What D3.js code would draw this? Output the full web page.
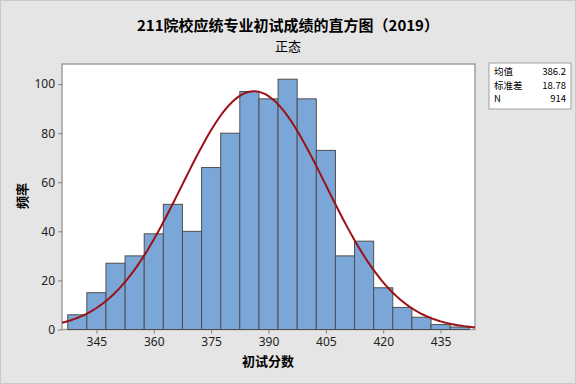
<!DOCTYPE html>
<html>
<head>
<meta charset="utf-8">
<script src="https://cdn.jsdelivr.net/npm/d3@7"></script>
<style>
body { margin: 0; background: #fff; }
text { font-family: "Noto Sans CJK SC", "DejaVu Sans", sans-serif; }
</style>
</head>
<body>
<div id="chart"></div>
<script>
// bin centres (score), counts per bin
var binCenters = [340, 345, 350, 355, 360, 365, 370, 375, 380, 385, 390, 395, 400, 405, 410, 415, 420, 425, 430, 435, 440];
var counts = [6, 15, 27, 30, 39, 51, 40, 66, 80, 97, 94, 102, 94, 73, 30, 36, 17, 9, 5, 2, 1];
var xTicks = [345, 360, 375, 390, 405, 420, 435];
var yTicks = [0, 20, 40, 60, 80, 100];
var statLabels = ["均值", "标准差", "N"];
var statValues = ["386.2", "18.78", "914"];
var mean = 386.2, sd = 18.78, n = 914, binWidth = 5;

var W = 576, H = 384;
var margin = {top: 64, right: 101, bottom: 54.5, left: 62};

var svg = d3.select("#chart").append("svg").attr("width", W).attr("height", H);

svg.append("rect").attr("x", 0.5).attr("y", 0.5).attr("width", W - 1).attr("height", H - 1)
    .attr("fill", "#e5e5e5").attr("stroke", "#c8c8c8");

var x = d3.scaleLinear().domain([336, 444]).range([margin.left, W - margin.right]);
var y = d3.scaleLinear().domain([0, 108.2]).range([H - margin.bottom, margin.top]);

// plot area
svg.append("rect").attr("x", margin.left).attr("y", margin.top)
    .attr("width", W - margin.right - margin.left).attr("height", H - margin.bottom - margin.top)
    .attr("fill", "#fff").attr("stroke", "#a0a0a0").attr("stroke-width", 1.5);

// bars
svg.selectAll(".bar").data(binCenters).enter().append("rect")
    .attr("class", "bar")
    .attr("x", d => x(d - binWidth / 2))
    .attr("width", d => x(d + binWidth / 2) - x(d - binWidth / 2))
    .attr("y", (d, i) => y(counts[i]))
    .attr("height", (d, i) => y(0) - y(counts[i]))
    .attr("fill", "#7ba7d8").attr("stroke", "#4f4f4f").attr("stroke-width", 1);

// fitted normal curve from the stats
var pts = d3.range(336, 444.01, 0.5).map(function(v) {
    var z = (v - mean) / sd;
    return [v, n * binWidth * Math.exp(-0.5 * z * z) / (sd * Math.sqrt(2 * Math.PI))];
});
svg.append("path").datum(pts)
    .attr("d", d3.line().x(d => x(d[0])).y(d => y(d[1])))
    .attr("fill", "none").attr("stroke", "#9b1116").attr("stroke-width", 2);

// axes
var xAxis = svg.append("g").attr("transform", `translate(0,${H - margin.bottom})`)
    .call(d3.axisBottom(x).tickValues(xTicks).tickSize(4).tickPadding(4));
var yAxis = svg.append("g").attr("transform", `translate(${margin.left},0)`)
    .call(d3.axisLeft(y).tickValues(yTicks).tickSize(4).tickPadding(3));
[xAxis, yAxis].forEach(function(a) {
    a.select(".domain").remove();
    a.selectAll("line").attr("stroke", "#808080");
    a.selectAll("text").attr("font-size", 12).attr("fill", "#222")
        .style("font-family", "'Noto Sans', 'DejaVu Sans', sans-serif");
});

// titles
svg.append("text").attr("x", 288).attr("y", 31).attr("text-anchor", "middle")
    .attr("font-size", 15).attr("font-weight", "bold").text("211院校应统专业初试成绩的直方图（2019）");
svg.append("text").attr("x", 288).attr("y", 51).attr("text-anchor", "middle")
    .attr("font-size", 13).text("正态");
svg.append("text").attr("x", 268).attr("y", 366).attr("text-anchor", "middle")
    .attr("font-size", 13).attr("font-weight", "bold").text("初试分数");
svg.append("text").attr("transform", "translate(27,196) rotate(-90)").attr("text-anchor", "middle")
    .attr("font-size", 13).attr("font-weight", "bold").text("频率");

// stats box
var box = svg.append("g").attr("transform", "translate(489,63)");
box.append("rect").attr("width", 82).attr("height", 46).attr("fill", "#fff").attr("stroke", "#a0a0a0");
statLabels.forEach(function(l, i) {
    box.append("text").attr("x", 5).attr("y", 12 + i * 13.5).attr("font-size", 9.5).text(l);
    box.append("text").attr("x", 77).attr("y", 12 + i * 13.5).attr("font-size", 9.5)
        .attr("text-anchor", "end").text(statValues[i]);
});
</script>
</body>
</html>
